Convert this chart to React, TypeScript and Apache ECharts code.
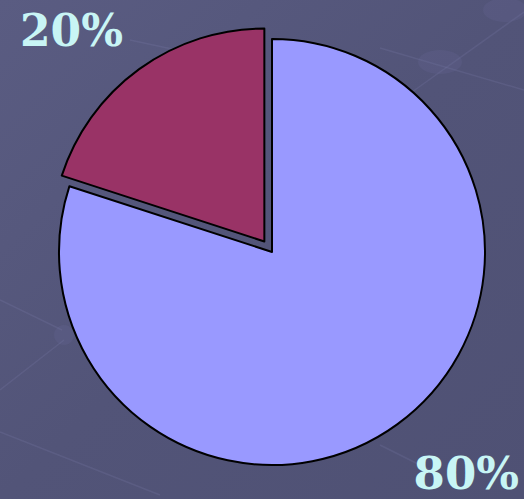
import React, { useEffect, useRef } from "react";
import * as echarts from "echarts";

const categories = ["Share A", "Share B"];
const values = [80, 20];
const sliceColors = ["#9999ff", "#993366"];

export default function App() {
  const ref = useRef<HTMLDivElement>(null);
  useEffect(() => {
    if (!ref.current) return;
    const chart = echarts.init(ref.current, undefined, { renderer: "svg" });
    const lineStyle = { stroke: "rgba(140,142,190,0.16)", lineWidth: 1.5 };
    const blob = { fill: "rgba(110,112,160,0.18)" };
    chart.setOption({
      animation: false,
      backgroundColor: {
        type: "linear", x: 0, y: 0, x2: 1, y2: 1,
        colorStops: [
          { offset: 0, color: "#5a5c82" },
          { offset: 0.5, color: "#525478" },
          { offset: 1, color: "#4f5174" },
        ],
      },
      graphic: [
        { type: "line", z: -1, shape: { x1: 412, y1: 92, x2: 524, y2: 12 }, style: lineStyle },
        { type: "line", z: -1, shape: { x1: 380, y1: 48, x2: 524, y2: 90 }, style: lineStyle },
        { type: "ellipse", z: -1, shape: { cx: 440, cy: 62, rx: 22, ry: 12 }, style: blob },
        { type: "ellipse", z: -1, shape: { cx: 505, cy: 10, rx: 22, ry: 12 }, style: blob },
        { type: "line", z: -1, shape: { x1: 0, y1: 300, x2: 62, y2: 330 }, style: lineStyle },
        { type: "line", z: -1, shape: { x1: 0, y1: 390, x2: 64, y2: 340 }, style: lineStyle },
        { type: "ellipse", z: -1, shape: { cx: 64, cy: 335, rx: 10, ry: 10 }, style: blob },
        { type: "line", z: -1, shape: { x1: 0, y1: 432, x2: 160, y2: 495 }, style: lineStyle },
        { type: "line", z: -1, shape: { x1: 380, y1: 445, x2: 430, y2: 470 }, style: lineStyle },
        { type: "line", z: -1, shape: { x1: 130, y1: 40, x2: 200, y2: 55 }, style: lineStyle },
        {
          type: "text", left: 20, top: 8, z: 10,
          style: {
            text: `${values[1]}%`, fill: "#c8f5f5",
            font: "bold 44px 'DejaVu Serif'",
          },
        },
        {
          type: "text", right: 5, bottom: 3, z: 10,
          style: {
            text: `${values[0]}%`, fill: "#c8f5f5",
            font: "bold 45px 'DejaVu Serif'",
          },
        },
      ],
      series: [
        {
          type: "pie",
          center: [272, 252],
          radius: 213,
          startAngle: 90,
          clockwise: true,
          selectedMode: "single",
          selectedOffset: 13,
          label: { show: false },
          labelLine: { show: false },
          emphasis: { disabled: true },
          itemStyle: { borderColor: "#000", borderWidth: 2 },
          data: categories.map((name, i) => ({
            name,
            value: values[i],
            selected: i === 1,
            itemStyle: { color: sliceColors[i] },
          })),
        },
      ],
    });
    return () => chart.dispose();
  }, []);
  return (
    <div
      ref={ref}
      style={{ position: "fixed", left: 0, top: 0, width: 524, height: 499 }}
    />
  );
}
